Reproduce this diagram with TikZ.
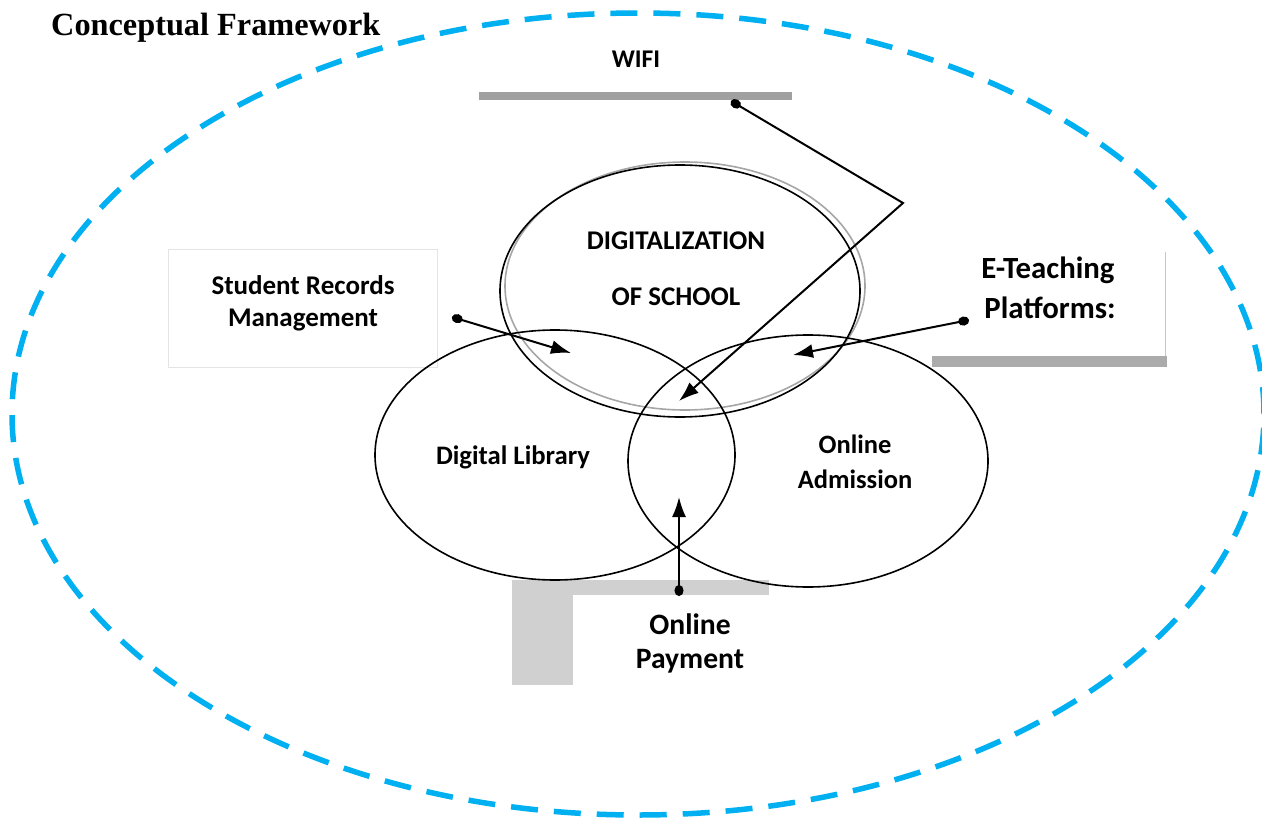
\documentclass[tikz,border=0pt]{standalone}
\usepackage{fontspec}
\setmainfont{Carlito}
\newfontfamily\titlefont{Liberation Serif}
\usetikzlibrary{shapes.geometric,arrows.meta}
\definecolor{frameblue}{HTML}{00B0F0}
\definecolor{bargray}{HTML}{A0A0A0}
\definecolor{shadegray}{HTML}{ABABAB}
\definecolor{lightgray}{HTML}{D0D0D0}
\definecolor{boxline}{HTML}{E4E4E4}
\begin{document}
\begin{tikzpicture}[x=1pt, y=-1pt,
  circ/.style={ellipse, draw, line width=1.6pt, minimum width=360pt, minimum height=250pt, inner sep=0pt},
  label/.style={font=\bfseries\fontsize{27}{30}\selectfont, inner sep=0pt},
  biglabel/.style={label, font=\bfseries\fontsize{30}{34}\selectfont},
  link/.style={line width=2pt, {Circle[length=11pt,width=9pt]}-{Latex[length=20pt,width=14pt]}}]
  \useasboundingbox (0,0) rectangle (1262,819);
  % outer frame
  \node[ellipse, draw=frameblue, line width=5.5pt, dash pattern=on 27pt off 16pt,
        minimum width=1252pt, minimum height=802pt] (frame) at (638,414) {};
  \node[anchor=base west, inner sep=0pt, font=\titlefont\bfseries\fontsize{32.3}{36}\selectfont] (title) at (51,35) {Conceptual Framework};

  % shaded bars
  \fill[bargray] (479,92) rectangle (792,100);
  \fill[shadegray] (932,356) rectangle (1167,367);
  \draw[boxline!70!gray, line width=1pt] (1165,252) -- (1165,356);
  \fill[lightgray] (512,580) rectangle (769,595);
  \fill[lightgray] (512,580) rectangle (573,685);
  \draw[boxline, line width=0.8pt] (168,249) rectangle (437,367);

  % circles
  \node[circ, draw=gray!70, minimum width=360pt, minimum height=248pt] (digiouter) at (685,286) {};
  \node[circ, minimum width=360pt, minimum height=252pt] (digi) at (680,291) {};
  \node[circ] (library) at (555,455) {};
  \node[circ, minimum height=252pt] (admission) at (808,461) {};

  % texts
  \node[label, font=\bfseries\fontsize{25.5}{28}\selectfont] (wifi) at (636,59) {WIFI};
  \node[label] (digitop) at (676,241) {DIGITALIZATION};
  \node[label] (digibot) at (676,297) {OF SCHOOL};
  \node[label] (records) at (303,285) {Student Records};
  \node[label] (manage) at (303,320) {Management};
  \node[label, font=\bfseries\fontsize{26.7}{30}\selectfont] (libtext) at (513,457) {Digital Library};
  \node[label, font=\bfseries\fontsize{26.5}{30}\selectfont] (admtop) at (855,444) {Online};
  \node[label, font=\bfseries\fontsize{26.5}{30}\selectfont] (admbot) at (855,479) {Admission};
  \node[biglabel, font=\bfseries\fontsize{30.8}{34}\selectfont] (teachtop) at (1048,270) {E-Teaching};
  \node[biglabel, font=\bfseries\fontsize{30.8}{34}\selectfont] (teachbot) at (1050,308) {Platforms:};
  \node[biglabel, font=\bfseries\fontsize{29.6}{34}\selectfont] (paytop) at (690,624) {Online};
  \node[biglabel, font=\bfseries\fontsize{29.6}{34}\selectfont] (paybot) at (690,661) {Payment};

  % connectors
  \coordinate (wifidot) at (731,101);
  \coordinate (wifibend) at (903,203);
  \coordinate (wifitip) at (679,401);
  \coordinate (recdot) at (452,317);
  \coordinate (rectip) at (571,353);
  \coordinate (teachdot) at (969,320);
  \coordinate (teachtip) at (793,355);
  \coordinate (paydot) at (679,596);
  \coordinate (paytip) at (679,497);
  \draw[link] (wifidot) -- (wifibend) -- (wifitip);
  \draw[link] (recdot) -- (rectip);
  \draw[link] (teachdot) -- (teachtip);
  \draw[link] (paydot) -- (paytip);
\end{tikzpicture}
\end{document}
